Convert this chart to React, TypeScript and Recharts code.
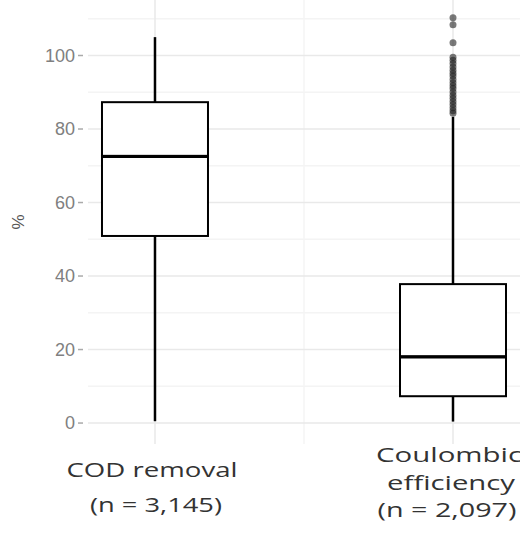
import { ComposedChart, XAxis, YAxis, Bar, Scatter, CartesianGrid } from "recharts";

// one entry per box, left to right
const categories = ["COD removal", "Coulombic efficiency"];
const labelLines = [
    ["COD removal", "(n = 3,145)"],
    ["Coulombic", "efficiency", "(n = 2,097)"],
];
const whiskerLow = [0.5, 0.4];
const q1 = [50.9, 7.3];
const median = [72.7, 18.2];
const q3 = [87.3, 37.8];
const whiskerHigh = [105.0, 83.3];

// outliers of Coulombic efficiency
const outliers = [
    110.3, 108.4, 103.5, 99.5, 98.7, 97.8, 96.9, 96.0, 95.2, 94.4, 93.5, 92.6,
    91.8, 91.0, 90.1, 89.2, 88.4, 87.5, 86.7, 85.8, 85.0, 84.3,
];

const yTicks = [0, 20, 40, 60, 80, 100];
const yMinor = [10, 30, 50, 70, 90, 110];

const data = categories.map((name, i) => ({
    x: i,
    name,
    base: whiskerLow[i],
    lowW: q1[i] - whiskerLow[i],
    lowBox: median[i] - q1[i],
    highBox: q3[i] - median[i],
    highW: whiskerHigh[i] - q3[i],
}));
const outlierData = outliers.map((v) => ({ x: 1, y: v }));

// label layout: baseline offsets below the panel, horizontal shifts, text widths
const lineOffsets = [[33, 68], [18, 46, 73]];
const lineShift = [[-3, 1], [-4, -2, -6]];
const lineWidths = [[171, 132], [146, 128, 139]];

const Empty = () => <g />;

const Whisker = (p: any) => {
    const cx = p.x + p.width / 2;
    return <line x1={cx} x2={cx} y1={p.y} y2={p.y + p.height} stroke="#000" strokeWidth={2.5} />;
};

const BoxPart = (thickTop: boolean) => (p: any) => (
    <g>
        <rect x={p.x} y={p.y} width={p.width} height={p.height} fill="#fff" stroke="#000" strokeWidth={2} />
        {thickTop && (
            <line x1={p.x} x2={p.x + p.width} y1={p.y} y2={p.y} stroke="#000" strokeWidth={4.5} />
        )}
    </g>
);

const YTick = ({ x, y, payload }: any) => (
    <g>
        <text x={x - 13} y={y} dy={6} textAnchor="end" fontSize={18} fill="#808080" fontFamily="Liberation Sans, Arial">
            {payload.value}
        </text>
        <line x1={x - 10} x2={x - 5} y1={y} y2={y} stroke="#aaa" strokeWidth={1.5} />
    </g>
);

const XTick = ({ x, y, payload }: any) => {
    const i = Math.round(payload.value);
    return (
        <g>
            {labelLines[i].map((t, k) => (
                <text
                    key={k}
                    x={x + lineShift[i][k]}
                    y={y + lineOffsets[i][k]}
                    textAnchor="middle"
                    fontSize={20}
                    fill="#333"
                    fontFamily="Open Sans, Liberation Sans, Arial"
                    textLength={lineWidths[i][k]}
                    lengthAdjust="spacingAndGlyphs"
                >
                    {t}
                </text>
            ))}
        </g>
    );
};

export default function App() {
    return (
        <div style={{ position: "absolute", left: 0, top: 0 }}>
            <ComposedChart width={520} height={543} data={data} margin={{ top: 0, right: 0, bottom: 0, left: 0 }}>
                <CartesianGrid stroke="#f4f4f4" strokeWidth={1.5} horizontalValues={yMinor} verticalValues={[0.5]} />
                <CartesianGrid stroke="#e9e9e9" strokeWidth={1.5} horizontalValues={yTicks} verticalValues={[0, 1]} />
                <XAxis
                    dataKey="x"
                    type="number"
                    domain={[-0.2248, 1.2248]}
                    allowDataOverflow
                    ticks={[0, 1]}
                    height={99}
                    tickSize={0}
                    tickMargin={0}
                    axisLine={false}
                    tickLine={false}
                    tick={<XTick />}
                    interval={0}
                />
                <YAxis
                    type="number"
                    domain={[-5.7, 115.1]}
                    allowDataOverflow
                    ticks={yTicks}
                    width={88}
                    tickSize={0}
                    tickMargin={0}
                    axisLine={false}
                    tickLine={false}
                    tick={<YTick />}
                    interval={0}
                    label={{
                        content: ({ viewBox }: any) => (
                            <text
                                x={viewBox.x + 24}
                                y={viewBox.y + viewBox.height / 2}
                                transform={`rotate(-90 ${viewBox.x + 24} ${viewBox.y + viewBox.height / 2})`}
                                textAnchor="middle"
                                fontSize={17}
                                fill="#555"
                                fontFamily="Liberation Sans, Arial"
                            >
                                %
                            </text>
                        ),
                    }}
                />
                <Bar dataKey="base" stackId="b" barSize={106} shape={<Empty />} isAnimationActive={false} />
                <Bar dataKey="lowW" stackId="b" barSize={106} shape={<Whisker />} isAnimationActive={false} />
                <Bar dataKey="lowBox" stackId="b" barSize={106} shape={BoxPart(true)} isAnimationActive={false} />
                <Bar dataKey="highBox" stackId="b" barSize={106} shape={BoxPart(false)} isAnimationActive={false} />
                <Bar dataKey="highW" stackId="b" barSize={106} shape={<Whisker />} isAnimationActive={false} />
                <Scatter
                    data={outlierData}
                    dataKey="y"
                    shape={(p: any) => <circle cx={p.cx} cy={p.cy} r={3.5} fill="#222" fillOpacity={0.6} />}
                    isAnimationActive={false}
                />
            </ComposedChart>
        </div>
    );
}
